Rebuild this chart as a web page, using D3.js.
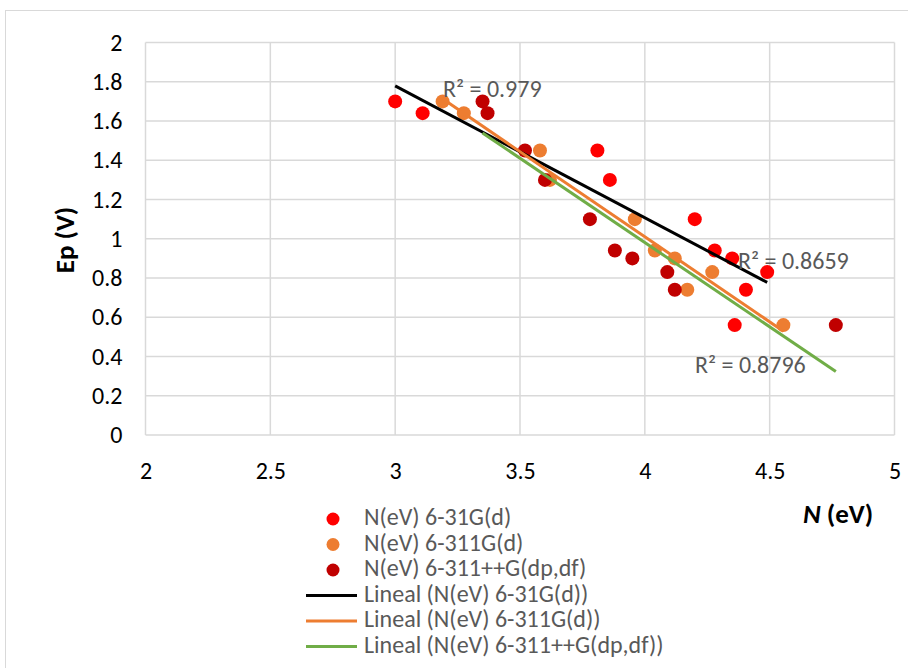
<!DOCTYPE html>
<html><head><meta charset="utf-8">
<script src="https://cdn.jsdelivr.net/npm/d3@7"></script>
<style>body{margin:0;background:#fff}svg{display:block}</style>
</head><body><svg id="c" width="908" height="668"></svg>
<script>
const seriesNames = ["N(eV) 6-31G(d)", "N(eV) 6-311G(d)", "N(eV) 6-311++G(dp,df)"];
const trendNames = ["Lineal (N(eV) 6-31G(d))", "Lineal (N(eV) 6-311G(d))", "Lineal (N(eV) 6-311++G(dp,df))"];
const yValues = [1.70, 1.64, 1.45, 1.30, 1.10, 0.94, 0.90, 0.83, 0.74, 0.56];
const xRed    = [3.00, 3.11, 3.81, 3.86, 4.20, 4.28, 4.35, 4.49, 4.405, 4.36];
const xOrange = [3.19, 3.275, 3.58, 3.62, 3.96, 4.04, 4.12, 4.27, 4.17, 4.555];
const xDark   = [3.35, 3.37, 3.52, 3.60, 3.78, 3.88, 3.95, 4.09, 4.12, 4.765];
const r2Labels = ["R² = 0.979", "R² = 0.8659", "R² = 0.8796"];
const xTicks = [2, 2.5, 3, 3.5, 4, 4.5, 5];
const yTicks = [0, 0.2, 0.4, 0.6, 0.8, 1, 1.2, 1.4, 1.6, 1.8, 2];
const pointColors = ["#FF0000", "#ED7D31", "#C00000"];
const lineColors = ["#000000", "#ED7D31", "#70AD47"];

const svg = d3.select("#c");
const font = "Calibri, Carlito, 'Open Sans', sans-serif";
svg.append("rect").attr("x",5.5).attr("y",10.5).attr("width",910).attr("height",670)
  .attr("fill","#fff").attr("stroke","#d9d9d9").attr("stroke-width",1);

const x = d3.scaleLinear().domain([2,5]).range([145.5,894.5]);
const y = d3.scaleLinear().domain([0,2]).range([435,42.5]);

const g = svg.append("g");
g.selectAll(".gx").data(xTicks).join("line")
  .attr("x1",d=>x(d)).attr("x2",d=>x(d)).attr("y1",y(0)).attr("y2",y(2))
  .attr("stroke","#d9d9d9").attr("stroke-width",1.5);
g.selectAll(".gy").data(yTicks).join("line")
  .attr("x1",x(2)).attr("x2",x(5)).attr("y1",d=>y(d)).attr("y2",d=>y(d))
  .attr("stroke","#d9d9d9").attr("stroke-width",1.5);

const xAxis = d3.axisBottom(x).tickValues(xTicks).tickSize(0).tickPadding(27).tickFormat(d3.format(""));
const xa = svg.append("g").attr("transform",`translate(0,${y(0)})`).call(xAxis);
xa.select(".domain").remove();
xa.selectAll("text").attr("font-family",font).attr("font-size",24).attr("fill","#000");
const yAxis = d3.axisLeft(y).tickValues(yTicks).tickSize(0).tickPadding(23).tickFormat(d3.format(""));
const ya = svg.append("g").attr("transform",`translate(${x(2)},0)`).call(yAxis);
ya.select(".domain").remove();
ya.selectAll("text").attr("font-family",font).attr("font-size",24).attr("fill","#000");

const xsAll = [xRed, xOrange, xDark];
xsAll.forEach((xs,i)=>{
  svg.append("g").selectAll("circle").data(xs.map((v,j)=>[v,yValues[j]])).join("circle")
    .attr("cx",d=>x(d[0])).attr("cy",d=>y(d[1])).attr("r",7).attr("fill",pointColors[i]);
});

function fit(xs, ys){
  const mx=d3.mean(xs), my=d3.mean(ys);
  let sxy=0,sxx=0; xs.forEach((v,i)=>{sxy+=(v-mx)*(ys[i]-my); sxx+=(v-mx)**2;});
  const b=sxy/sxx, a=my-b*mx; return [a,b];
}
xsAll.forEach((xs,i)=>{
  const [a,b]=fit(xs,yValues);
  const x0=d3.min(xs), x1=d3.max(xs);
  svg.append("line").attr("x1",x(x0)).attr("y1",y(a+b*x0)).attr("x2",x(x1)).attr("y2",y(a+b*x1))
    .attr("stroke",lineColors[i]).attr("stroke-width",3);
});

const r2Pos = [[443,97],[738,269],[695,373]];
r2Labels.forEach((t,i)=>{
  svg.append("text").attr("x",r2Pos[i][0]).attr("y",r2Pos[i][1]).text(t)
    .attr("font-family",font).attr("font-size",24).attr("fill","#595959");
});

const xt = svg.append("text").attr("x",803).attr("y",523).attr("font-family",font)
  .attr("font-size",27).attr("font-weight","bold").attr("fill","#000");
xt.append("tspan").attr("font-style","italic").text("N");
xt.append("tspan").text(" (eV)");
svg.append("text").attr("transform","translate(74,240) rotate(-90)").attr("text-anchor","middle")
  .attr("font-family",font).attr("font-size",27).attr("font-weight","bold").attr("fill","#000").text("Ep (V)");

const legBase = [525,550.5,576,601.5,627,652.5];
seriesNames.forEach((n,i)=>{
  svg.append("circle").attr("cx",333).attr("cy",legBase[i]-6).attr("r",6.5).attr("fill",pointColors[i]);
  svg.append("text").attr("x",364).attr("y",legBase[i]).text(n)
    .attr("font-family",font).attr("font-size",24).attr("fill","#595959");
});
trendNames.forEach((n,i)=>{
  const yy=legBase[i+3];
  svg.append("line").attr("x1",306).attr("x2",357).attr("y1",yy-6).attr("y2",yy-6)
    .attr("stroke",lineColors[i]).attr("stroke-width",3);
  svg.append("text").attr("x",364).attr("y",yy).text(n)
    .attr("font-family",font).attr("font-size",24).attr("fill","#595959");
});
</script></body></html>
